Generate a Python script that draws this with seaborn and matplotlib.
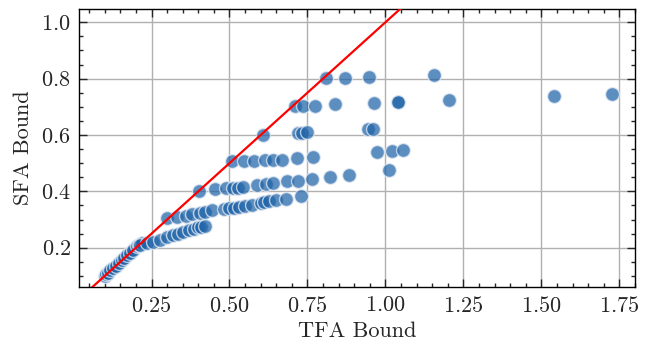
import matplotlib
matplotlib.use("Agg")
import matplotlib.pyplot as plt
from matplotlib.ticker import MultipleLocator
import seaborn as sns
import pandas as pd

# --- data ---
tfa = [
    # near-diagonal cluster
    0.100, 0.105, 0.110, 0.118, 0.127, 0.135, 0.145, 0.154, 0.162, 0.172, 0.180, 0.190, 0.202, 0.210, 0.218,
    # lower branch (~0.21-0.28)
    0.212, 0.236, 0.255, 0.277, 0.300, 0.320, 0.335, 0.351, 0.370, 0.385, 0.400, 0.410, 0.421,
    # branch (~0.30-0.38)
    0.300, 0.332, 0.360, 0.380, 0.407, 0.420, 0.445, 0.482, 0.500, 0.515, 0.531, 0.550, 0.571,
    0.600, 0.612, 0.627, 0.650, 0.681, 0.729,
    # branch (~0.40-0.46)
    0.403, 0.453, 0.490, 0.510, 0.527, 0.543, 0.588, 0.617, 0.640, 0.683, 0.720, 0.766, 0.822, 0.882, 1.010,
    # branch (~0.50-0.55)
    0.507, 0.546, 0.580, 0.615, 0.640, 0.667, 0.715, 0.768, 0.974, 1.021, 1.055,
    # branch (~0.60-0.62)
    0.606, 0.720, 0.733, 0.747, 0.943, 0.961,
    # branch (~0.70-0.75)
    0.710, 0.737, 0.774, 0.839, 0.963, 1.039, 1.040, 1.205, 1.539, 1.727,
    # branch (~0.80-0.81)
    0.810, 0.871, 0.948, 1.154,
]
sfa = [
    0.100, 0.106, 0.110, 0.120, 0.128, 0.136, 0.145, 0.155, 0.162, 0.175, 0.180, 0.192, 0.205, 0.208, 0.216,
    0.211, 0.217, 0.222, 0.229, 0.237, 0.244, 0.250, 0.256, 0.262, 0.268, 0.272, 0.274, 0.277,
    0.305, 0.309, 0.314, 0.318, 0.323, 0.327, 0.333, 0.338, 0.340, 0.342, 0.345, 0.348, 0.353,
    0.358, 0.361, 0.365, 0.368, 0.374, 0.383,
    0.403, 0.410, 0.411, 0.412, 0.413, 0.415, 0.424, 0.427, 0.430, 0.436, 0.438, 0.444, 0.452, 0.459, 0.474,
    0.507, 0.508, 0.509, 0.511, 0.512, 0.513, 0.519, 0.523, 0.539, 0.544, 0.546,
    0.601, 0.608, 0.608, 0.609, 0.622, 0.622,
    0.703, 0.704, 0.704, 0.709, 0.712, 0.717, 0.717, 0.724, 0.738, 0.747,
    0.803, 0.803, 0.805, 0.813,
]
diag = [0.0, 2.0]

df = pd.DataFrame({"TFA Bound": tfa, "SFA Bound": sfa})

sns.set_style("ticks")
plt.rcParams.update({
    "font.family": ["serif"],
    "font.serif": ["cmr10", "DejaVu Serif"],
    "mathtext.fontset": "cm",
    "axes.formatter.use_mathtext": True,
    "font.size": 8,
    "axes.labelsize": 8,
    "xtick.labelsize": 8,
    "ytick.labelsize": 8,
    "axes.linewidth": 0.5,
    "xtick.direction": "in",
    "ytick.direction": "in",
    "xtick.top": True,
    "ytick.right": True,
    "xtick.major.size": 3,
    "ytick.major.size": 3,
    "xtick.minor.size": 1.5,
    "ytick.minor.size": 1.5,
    "xtick.major.width": 0.5,
    "ytick.major.width": 0.5,
    "xtick.minor.width": 0.5,
    "ytick.minor.width": 0.5,
    "xtick.minor.visible": True,
    "ytick.minor.visible": True,
    "axes.edgecolor": "black",
})

fig = plt.figure(figsize=(3.27, 1.73), dpi=200)
ax = fig.add_axes([0.121, 0.170, 0.850, 0.804])

sns.scatterplot(data=df, x="TFA Bound", y="SFA Bound", ax=ax,
                color="#1F63A8", alpha=0.72, s=25, edgecolor="#e8eef6", linewidth=0.5, zorder=3)

ax.set_xlim(0.018, 1.80)
ax.set_ylim(0.06, 1.047)
ax.plot(diag, diag, color="red", linewidth=0.8, zorder=4)

ax.xaxis.set_major_locator(MultipleLocator(0.25))
ax.xaxis.set_minor_locator(MultipleLocator(0.05))
ax.yaxis.set_major_locator(MultipleLocator(0.2))
ax.yaxis.set_minor_locator(MultipleLocator(0.05))
ax.grid(True, which="major", color="#b0b0b0", linewidth=0.5, zorder=0)
ax.set_axisbelow(True)
ax.tick_params(which="both", top=True, right=True, direction="in", pad=3)

ax.set_xlabel("TFA Bound", labelpad=2)
ax.set_ylabel("SFA Bound", labelpad=3)

fig.savefig("out.png", dpi=200)
